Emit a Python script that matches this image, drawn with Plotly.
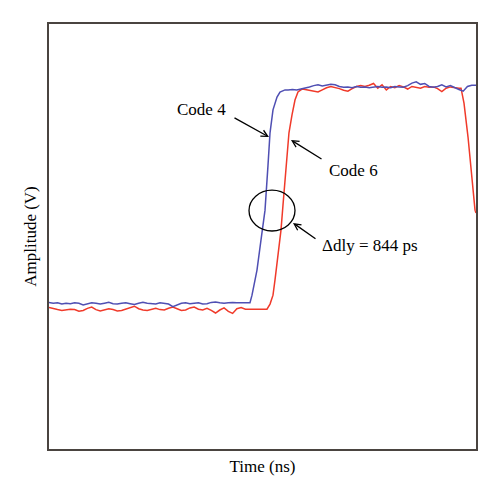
import numpy as np
import plotly.graph_objects as go

# ---- Data (time in ns, amplitude in arbitrary V units) ----
# Code 4 (blue): flat low level sampled every 0.1 ns from 0.0 to 4.6
code4_low_t = np.round(np.arange(0.0, 4.65, 0.1), 2)
code4_low_v = [0.345, 0.343, 0.344, 0.341, 0.343, 0.342, 0.344, 0.343, 0.339, 0.342,
               0.344, 0.343, 0.341, 0.343, 0.345, 0.342, 0.341, 0.343, 0.344, 0.342,
               0.340, 0.343, 0.345, 0.343, 0.342, 0.341, 0.344, 0.343, 0.341, 0.335,
               0.339, 0.343, 0.344, 0.342, 0.343, 0.344, 0.341, 0.342, 0.345, 0.346,
               0.344, 0.343, 0.344, 0.345, 0.344, 0.344, 0.344]
code4_edge_t = [4.707, 4.754, 4.801, 4.871, 4.965, 5.059, 5.129, 5.176, 5.246, 5.340, 5.410, 5.527]
code4_edge_v = [0.344, 0.362, 0.386, 0.421, 0.492, 0.562, 0.668, 0.744, 0.798, 0.828, 0.840, 0.845]
code4_high_t = np.round(np.arange(5.6, 10.05, 0.1), 2)
code4_high_v = [0.845, 0.846, 0.845, 0.847, 0.850, 0.852, 0.855, 0.857, 0.854, 0.856,
                0.858, 0.857, 0.853, 0.851, 0.852, 0.850, 0.853, 0.851, 0.852, 0.850,
                0.851, 0.853, 0.851, 0.852, 0.850, 0.853, 0.852, 0.851, 0.855, 0.861,
                0.864, 0.858, 0.860, 0.853, 0.851, 0.853, 0.857, 0.852, 0.855, 0.850,
                0.846, 0.842, 0.853, 0.856, 0.856]

# Code 6 (red)
code6_low_t = np.round(np.arange(0.0, 5.05, 0.1), 2)
code6_low_v = [0.333, 0.330, 0.328, 0.326, 0.327, 0.329, 0.328, 0.324, 0.326, 0.331,
               0.334, 0.328, 0.325, 0.327, 0.330, 0.328, 0.325, 0.326, 0.329, 0.333,
               0.336, 0.330, 0.327, 0.326, 0.329, 0.331, 0.328, 0.327, 0.331, 0.334,
               0.330, 0.326, 0.327, 0.332, 0.334, 0.329, 0.327, 0.331, 0.326, 0.320,
               0.327, 0.332, 0.324, 0.319, 0.330, 0.333, 0.329, 0.329, 0.328, 0.328, 0.329]
code6_rise_t = [5.105, 5.176, 5.246, 5.293, 5.363, 5.433, 5.480, 5.550, 5.620, 5.691, 5.761, 5.831, 5.925]
code6_rise_v = [0.329, 0.341, 0.362, 0.398, 0.456, 0.515, 0.574, 0.668, 0.744, 0.786, 0.821, 0.840, 0.847]
code6_high_t = np.round(np.arange(6.0, 9.65, 0.1), 2)
code6_high_v = [0.846, 0.844, 0.842, 0.840, 0.845, 0.850, 0.853, 0.851, 0.848, 0.844,
                0.842, 0.848, 0.853, 0.855, 0.853, 0.856, 0.860, 0.849, 0.857, 0.845,
                0.853, 0.850, 0.855, 0.852, 0.847, 0.853, 0.851, 0.849, 0.853, 0.851,
                0.852, 0.848, 0.841, 0.849, 0.852, 0.850, 0.849]
code6_fall_t = [9.649, 9.719, 9.813, 9.906, 9.977, 10.0]
code6_fall_v = [0.849, 0.814, 0.734, 0.633, 0.562, 0.555]

code4_t = list(code4_low_t) + code4_edge_t + list(code4_high_t)
code4_v = code4_low_v + code4_edge_v + code4_high_v
code6_t = list(code6_low_t) + code6_rise_t + list(code6_high_t) + code6_fall_t
code6_v = code6_low_v + code6_rise_v + code6_high_v + code6_fall_v

# Annotation / marker positions (data units)
delay_ellipse = dict(x0=4.684, x1=5.761, y0=0.513, y1=0.609)

FONT = "Liberation Serif, Times New Roman, serif"
AXIS_COLOR = "#4a4440"

fig = go.Figure()
fig.add_trace(go.Scatter(x=code6_t, y=code6_v, mode="lines", name="Code 6",
                         line=dict(color="#f03a2a", width=1.5)))
fig.add_trace(go.Scatter(x=code4_t, y=code4_v, mode="lines", name="Code 4",
                         line=dict(color="#4f4fb3", width=1.5)))

fig.add_shape(type="circle", xref="x", yref="y", line=dict(color="black", width=1.3),
              **delay_ellipse)

arrow_style = dict(showarrow=True, arrowhead=5, arrowsize=1, arrowwidth=1.3,
                   arrowcolor="black", axref="x", ayref="y", text="")
# arrows: head (x, y), tail (ax, ay)
fig.add_annotation(x=5.152, y=0.734, ax=4.309, ay=0.781, **arrow_style)
fig.add_annotation(x=5.667, y=0.727, ax=6.417, ay=0.680, **arrow_style)
fig.add_annotation(x=5.714, y=0.532, ax=6.276, ay=0.492, **arrow_style)

label_style = dict(showarrow=False, font=dict(family=FONT, size=17, color="black"))
fig.add_annotation(x=3.583, y=0.798, text="Code 4", xanchor="center", yanchor="middle", **label_style)
fig.add_annotation(x=7.12, y=0.656, text="Code 6", xanchor="center", yanchor="middle", **label_style)
fig.add_annotation(x=6.34, y=0.48, text="Δdly = 844 ps", xanchor="left", yanchor="middle", **label_style)

# The page places the figure 8 px from the window's top-left corner,
# so the figure is 8 px smaller and its margins are shifted to compensate.
fig.update_layout(
    width=492, height=489,
    margin=dict(l=41, r=24, t=16, b=48),
    paper_bgcolor="white", plot_bgcolor="white",
    showlegend=False,
    font=dict(family=FONT, size=17, color="black"),
    xaxis=dict(range=[0, 10], showgrid=False, zeroline=False, showticklabels=False,
               ticks="", showline=True, mirror=True, linecolor=AXIS_COLOR, linewidth=1.5,
               title=dict(text="Time (ns)", standoff=10, font=dict(family=FONT, size=17))),
    yaxis=dict(range=[0, 1], showgrid=False, zeroline=False, showticklabels=False,
               ticks="", showline=True, mirror=True, linecolor=AXIS_COLOR, linewidth=1.5,
               title=dict(text="Amplitude (V)", standoff=6, font=dict(family=FONT, size=17))),
)

fig.write_html("out.html")
